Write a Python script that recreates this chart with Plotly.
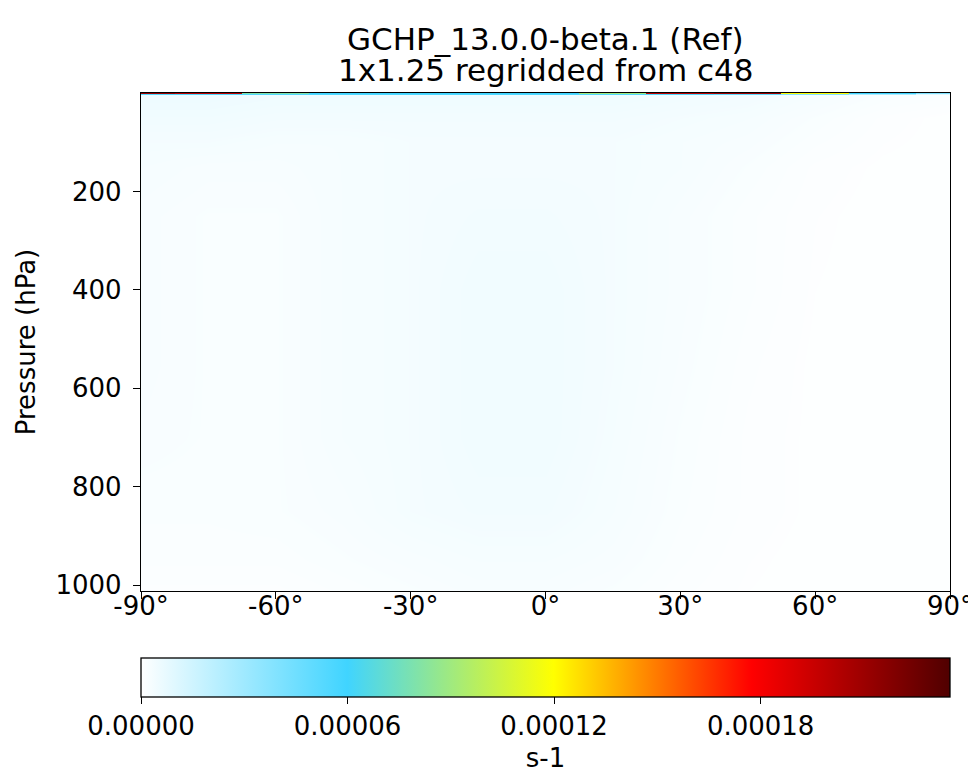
import plotly.graph_objects as go

# latitude centres (deg) and pressure centres (hPa)
lats = [-90, -75, -60, -45, -30, -15, 0, 15, 30, 45, 60, 75, 90]
levels = [5, 50, 100, 150, 250, 400, 550, 700, 850, 950, 1010]

# values in 1e-6 s-1
vals = [
    [5.5, 5.5, 5.0, 5.0, 5.0, 5.0, 5.0, 5.0, 4.5, 4.0, 3.0, 2.0, 1.5],
    [4.5, 4.5, 4.0, 4.0, 4.0, 4.0, 4.0, 4.0, 3.5, 3.0, 2.0, 1.0, 0.5],
    [3.5, 3.5, 3.0, 3.0, 3.5, 3.5, 3.5, 3.5, 3.0, 2.5, 1.5, 0.8, 0.5],
    [3.0, 2.5, 2.5, 3.0, 3.5, 3.5, 3.5, 3.5, 3.0, 2.0, 1.0, 0.6, 0.5],
    [2.5, 2.0, 2.0, 3.0, 3.5, 4.0, 4.0, 3.5, 2.5, 1.5, 0.8, 0.5, 0.5],
    [2.5, 2.0, 2.0, 3.0, 3.5, 4.5, 4.5, 3.5, 2.5, 1.5, 0.7, 0.5, 0.5],
    [2.5, 2.0, 2.0, 3.0, 3.5, 4.5, 4.5, 3.5, 2.3, 1.2, 0.6, 0.5, 0.5],
    [2.3, 2.0, 2.0, 3.0, 3.5, 4.5, 4.5, 3.3, 2.0, 1.0, 0.6, 0.5, 0.5],
    [1.8, 1.8, 2.0, 2.5, 3.5, 4.0, 4.0, 3.0, 1.8, 1.0, 0.6, 0.5, 0.5],
    [1.5, 1.5, 1.5, 2.0, 2.5, 3.0, 3.0, 2.5, 1.5, 0.8, 0.5, 0.5, 0.5],
    [1.0, 1.0, 1.0, 1.5, 2.0, 2.5, 2.5, 2.0, 1.2, 0.7, 0.5, 0.5, 0.5],
]

# very top model layers (squeezed into the first pixels)
top_edges = [0, 2.5, 5]
top_vals = [
    [210, 200, 80, 60, 60, 60, 60, 90, 200, 210, 120, 60, 40],
    [55, 55, 55, 55, 55, 55, 55, 55, 55, 50, 40, 25, 10],
]

title_lines = ["GCHP_13.0.0-beta.1 (Ref)", "1x1.25 regridded from c48"]
cbar_ticks = [0, 0.00006, 0.00012, 0.00018]
cbar_text = ["0.00000", "0.00006", "0.00012", "0.00018"]
lat_ticks = [-90, -60, -30, 0, 30, 60, 90]
p_ticks = [200, 400, 600, 800, 1000]

cscale = [
    [0.0, "#ffffff"],
    [0.255, "#40d4ff"],
    [0.51, "#ffff00"],
    [0.755, "#ff0000"],
    [1.0, "#500000"],
]

z = [[v * 1e-6 for v in row] for row in vals]
zt = [[v * 1e-6 for v in row] for row in top_vals]

fig = go.Figure()
fig.add_trace(go.Heatmap(x=lats, y=levels, z=z, coloraxis="coloraxis",
                         zsmooth="best", hoverinfo="skip"))
fig.add_trace(go.Heatmap(x=lats, y=top_edges, z=zt, coloraxis="coloraxis",
                         hoverinfo="skip"))

font = dict(family="DejaVu Sans", size=26, color="black")
# two title lines as annotations so the spacing can be set
for txt, yy in zip(title_lines, [1.108, 1.046]):
    fig.add_annotation(text=txt, x=0.5, y=yy, xref="paper", yref="paper",
                       xanchor="center", yanchor="middle", showarrow=False,
                       font=dict(family="DejaVu Sans", size=31, color="black"))

fig.update_layout(
    width=976, height=780,
    margin=dict(l=133, r=34, t=85, b=197),
    paper_bgcolor="white", plot_bgcolor="white",
    font=font,
    coloraxis=dict(
        colorscale=cscale, cmin=0, cmax=0.000235,
        colorbar=dict(
            orientation="h", x=0, xanchor="left", xref="paper",
            len=1, lenmode="fraction", xpad=0, ypad=0,
            y=-0.1345, yanchor="top", thickness=39,
            outlinewidth=1.3, outlinecolor="black",
            tickvals=cbar_ticks, ticktext=cbar_text,
            ticks="outside", ticklen=7, tickwidth=1.3, tickcolor="black",
            tickfont=font,
            title=dict(text="s-1", side="bottom", font=font),
        ),
    ),
    xaxis=dict(range=[-90, 90], tickvals=lat_ticks,
               ticktext=[f"{t}°" for t in lat_ticks], automargin=False,
               ticks="outside", ticklen=7, tickwidth=1.3, tickcolor="black",
               ticklabelstandoff=-15,
               showline=True, linecolor="black", linewidth=1.3, mirror=True,
               showgrid=False, zeroline=False),
    yaxis=dict(range=[1012, 0], tickvals=p_ticks, automargin=False,
               ticks="outside", ticklen=7, tickwidth=1.3, tickcolor="black",
               ticklabelstandoff=6,
               showline=True, linecolor="black", linewidth=1.3, mirror=True,
               showgrid=False, zeroline=False,
               title=dict(text="Pressure (hPa)", standoff=12, font=font)),
)

fig.write_html("out.html")
